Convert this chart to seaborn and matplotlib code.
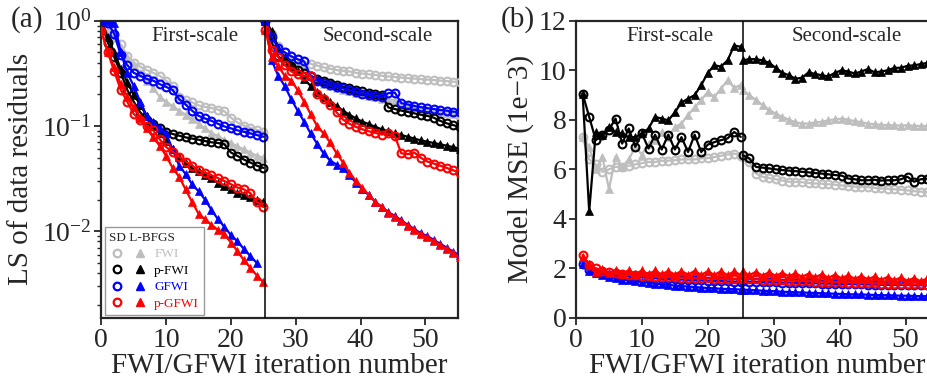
import numpy as np
import pandas as pd
import seaborn as sns
import matplotlib
matplotlib.use("Agg")
import matplotlib.pyplot as plt
from matplotlib.lines import Line2D
from matplotlib.legend_handler import HandlerTuple

nan = np.nan

# ---------------- data: panel (a) LS of data residuals ----------------
iter_a1 = list(range(0, 26))
iter_a2 = list(np.arange(31) + 25.3)

fwi_sd_a1 = [1.0, 0.88, 0.72, 0.60, 0.46, 0.40, 0.365, 0.34, 0.32, 0.30, 0.27, 0.24, 0.19, 0.178, 0.168, 0.157, 0.152, 0.148, 0.143, 0.138, 0.12, 0.108, 0.101, 0.096, 0.092, 0.088]
fwi_lb_a1 = [1.0, 0.85, 0.68, 0.55, 0.45, 0.38, 0.32, 0.27, 0.23, 0.19, 0.17, 0.155, 0.14, 0.128, 0.116, 0.105, 0.095, 0.086, 0.08, 0.074, 0.069, 0.064, 0.06, 0.056, 0.052, 0.05]
pfwi_sd_a1 = [1.0, 0.62, 0.45, 0.32, 0.22, 0.17, 0.135, 0.115, 0.105, 0.095, 0.088, 0.084, 0.081, 0.078, 0.076, 0.074, 0.072, 0.07, 0.069, 0.067, 0.056, 0.052, 0.048, 0.045, 0.042, 0.040]
pfwi_lb_a1 = [1.0, 0.7, 0.5, 0.35, 0.26, 0.2, 0.16, 0.125, 0.1, 0.085, 0.072, 0.06, 0.051, 0.045, 0.04, 0.037, 0.034, 0.032, 0.029, 0.027, 0.025, 0.023, 0.022, 0.021, 0.02, 0.019]
gfwi_sd_a1 = [1.0, 0.95, 0.75, 0.47, 0.38, 0.32, 0.30, 0.28, 0.27, 0.25, 0.235, 0.22, 0.18, 0.16, 0.14, 0.125, 0.118, 0.112, 0.105, 0.099, 0.095, 0.091, 0.088, 0.085, 0.082, 0.079]
gfwi_lb_a1 = [1.0, 1.0, 0.95, 0.5, 0.32, 0.24, 0.17, 0.125, 0.11, 0.095, 0.085, 0.06, 0.042, 0.035, 0.028, 0.024, 0.02, 0.016, 0.013, 0.011, 0.0092, 0.008, 0.0068, 0.0058, 0.005, nan]
pgfwi_sd_a1 = [0.8, 0.5, 0.33, 0.22, 0.17, 0.13, 0.115, 0.1, 0.091, 0.075, 0.063, 0.057, 0.051, 0.046, 0.042, 0.038, 0.036, 0.034, 0.032, 0.03, 0.028, 0.026, 0.025, 0.023, 0.019, 0.017]
pgfwi_lb_a1 = [0.8, 0.5, 0.36, 0.25, 0.19, 0.15, 0.12, 0.095, 0.078, 0.065, 0.052, 0.04, 0.033, 0.025, 0.019, 0.0147, 0.013, 0.0115, 0.0103, 0.0094, 0.0078, 0.0065, 0.0053, 0.0045, 0.0038, 0.0033]

fwi_sd_a2 = [1.0, 0.75, 0.57, 0.5, 0.46, 0.43, 0.41, 0.39, 0.375, 0.36, 0.35, 0.34, 0.335, 0.33, 0.32, 0.315, 0.31, 0.305, 0.3, 0.296, 0.292, 0.288, 0.285, 0.282, 0.279, 0.276, 0.273, 0.27, 0.267, 0.264, 0.26]
fwi_lb_a2 = [1.0, 0.68, 0.53, 0.47, 0.43, 0.4, 0.37, 0.3, 0.27, 0.25, 0.24, 0.23, 0.222, 0.215, 0.207, 0.2, 0.193, 0.187, 0.182, 0.18, 0.175, 0.16, 0.155, 0.15, 0.146, 0.142, 0.139, 0.136, 0.133, 0.13, 0.128]
pfwi_sd_a2 = [1.0, 0.62, 0.46, 0.41, 0.37, 0.34, 0.32, 0.3, 0.28, 0.265, 0.255, 0.245, 0.235, 0.228, 0.22, 0.213, 0.207, 0.202, 0.197, 0.15, 0.145, 0.14, 0.136, 0.132, 0.128, 0.125, 0.12, 0.112, 0.106, 0.102, 0.098]
pfwi_lb_a2 = [1.0, 0.8, 0.55, 0.45, 0.39, 0.33, 0.28, 0.24, 0.21, 0.19, 0.17, 0.155, 0.14, 0.128, 0.118, 0.11, 0.104, 0.098, 0.093, 0.089, 0.085, 0.082, 0.079, 0.076, 0.073, 0.071, 0.069, 0.067, 0.065, 0.063, 0.061]
gfwi_sd_a2 = [1.0, 0.7, 0.55, 0.5, 0.46, 0.43, 0.41, 0.3, 0.27, 0.255, 0.245, 0.235, 0.228, 0.22, 0.21, 0.203, 0.197, 0.192, 0.188, 0.205, 0.208, 0.165, 0.16, 0.155, 0.151, 0.148, 0.145, 0.142, 0.14, 0.137, 0.135]
gfwi_lb_a2 = [1.0, 0.42, 0.3, 0.24, 0.18, 0.14, 0.11, 0.085, 0.068, 0.055, 0.047, 0.043, 0.04, 0.034, 0.029, 0.025, 0.022, 0.019, 0.017, 0.0152, 0.014, 0.0127, 0.0115, 0.0105, 0.0096, 0.009, 0.0083, 0.0076, 0.007, 0.0064, 0.0059]
pgfwi_sd_a2 = [0.82, 0.53, 0.45, 0.38, 0.33, 0.31, 0.3, 0.3, 0.2, 0.18, 0.16, 0.135, 0.115, 0.105, 0.098, 0.093, 0.089, 0.086, 0.083, 0.085, 0.08, 0.055, 0.054, 0.056, 0.05, 0.046, 0.044, 0.042, 0.04, 0.038, 0.036]
pgfwi_lb_a2 = [0.82, 0.45, 0.37, 0.3, 0.27, 0.22, 0.17, 0.13, 0.1, 0.085, 0.07, 0.055, 0.045, 0.036, 0.03, 0.026, 0.022, 0.019, 0.017, 0.015, 0.0138, 0.0125, 0.0113, 0.0103, 0.0094, 0.0088, 0.0081, 0.0074, 0.0068, 0.0062, 0.0057]

# ---------------- data: panel (b) Model MSE (1e-3) ----------------
iter_b1 = list(range(1, 26))
iter_b2 = list(np.arange(30) + 25.3)

fwi_sd_b1 = [7.3, 6.4, 6.2, 5.9, 6.0, 6.1, 6.1, 6.15, 6.2, 6.25, 6.3, 6.3, 6.35, 6.35, 6.37, 6.4, 6.4, 6.4, 6.45, 6.45, 6.5, 6.55, 6.6, 6.64, 6.55]
fwi_lb_b1 = [7.3, 6.9, 6.0, 6.5, 5.2, 6.5, 6.1, 6.4, 6.9, 6.6, 7.04, 7.2, 7.5, 7.3, 7.7, 7.85, 8.2, 8.5, 8.8, 9.13, 8.92, 9.26, 9.6, 9.3, 9.4]
pfwi_sd_b1 = [9.06, 8.12, 7.18, 7.38, 7.6, 8.05, 7.04, 7.65, 6.91, 7.45, 6.84, 7.4, 6.8, 7.4, 6.8, 7.3, 6.7, 7.4, 6.7, 7.0, 7.1, 7.18, 7.25, 7.51, 7.31]
pfwi_lb_b1 = [9.06, 4.3, 7.5, 7.4, 7.7, 7.5, 7.45, 7.3, 7.3, 7.45, 7.65, 8.12, 8.05, 7.98, 8.3, 8.7, 8.85, 9.0, 9.4, 9.9, 10.2, 10.15, 10.4, 11.0, 10.95]
gfwi_sd_b1 = [2.2, 1.95, 1.85, 1.8, 1.75, 1.72, 1.7, 1.68, 1.66, 1.64, 1.62, 1.6, 1.58, 1.57, 1.56, 1.55, 1.54, 1.53, 1.52, 1.51, 1.5, 1.49, 1.48, 1.47, 1.46]
gfwi_lb_b1 = [2.2, 1.9, 1.8, 1.72, 1.66, 1.6, 1.55, 1.52, 1.48, 1.45, 1.42, 1.39, 1.36, 1.34, 1.31, 1.29, 1.27, 1.25, 1.23, 1.21, 1.2, 1.18, 1.17, 1.16, 1.15]
pgfwi_sd_b1 = [2.54, 2.15, 2.0, 1.9, 1.85, 1.8, 1.77, 1.74, 1.72, 1.7, 1.68, 1.67, 1.66, 1.65, 1.64, 1.63, 1.62, 1.61, 1.6, 1.6, 1.59, 1.58, 1.58, 1.57, 1.57]
pgfwi_lb_b1 = [2.45, 2.2, 1.85, 1.98, 1.8, 1.95, 1.78, 1.93, 1.77, 1.92, 1.76, 1.92, 1.76, 1.9, 1.75, 1.9, 1.75, 1.9, 1.74, 1.89, 1.74, 1.89, 1.73, 1.88, 1.73]

fwi_sd_b2 = [6.5, 6.3, 5.83, 5.7, 5.65, 5.6, 5.55, 5.5, 5.5, 5.48, 5.45, 5.43, 5.42, 5.4, 5.38, 5.35, 5.33, 5.3, 5.3, 5.28, 5.25, 5.23, 5.22, 5.2, 5.18, 5.15, 5.12, 5.1, 5.08, 5.06]
fwi_lb_b2 = [9.19, 9.0, 8.8, 8.6, 8.4, 8.25, 8.12, 8.0, 7.9, 7.85, 7.85, 7.9, 7.92, 7.98, 8.02, 8.05, 8.0, 7.95, 7.9, 7.85, 7.82, 7.8, 7.78, 7.78, 7.77, 7.78, 7.76, 7.75, 7.75, 7.76]
pfwi_sd_b2 = [6.57, 6.44, 6.1, 6.07, 6.04, 6.0, 5.97, 5.95, 5.93, 5.9, 5.88, 5.85, 5.83, 5.8, 5.77, 5.75, 5.63, 5.6, 5.56, 5.56, 5.58, 5.55, 5.56, 5.56, 5.6, 5.7, 5.5, 5.6, 5.63, 5.62]
pfwi_lb_b2 = [10.4, 10.45, 10.45, 10.4, 10.3, 10.1, 9.9, 9.8, 9.66, 9.7, 9.92, 9.85, 9.8, 9.75, 9.9, 10.0, 9.95, 9.87, 9.95, 10.05, 9.92, 9.95, 10.0, 10.1, 10.1, 10.18, 10.2, 10.25, 10.3, 10.35]
gfwi_sd_b2 = [1.48, 1.47, 1.46, 1.45, 1.45, 1.44, 1.43, 1.43, 1.42, 1.41, 1.41, 1.4, 1.39, 1.39, 1.38, 1.37, 1.37, 1.36, 1.36, 1.35, 1.35, 1.34, 1.34, 1.33, 1.33, 1.33, 1.32, 1.32, 1.32, 1.31]
gfwi_lb_b2 = [1.15, 1.13, 1.12, 1.1, 1.09, 1.08, 1.06, 1.05, 1.04, 1.03, 1.02, 1.01, 1.0, 0.99, 0.98, 0.97, 0.96, 0.95, 0.95, 0.94, 0.93, 0.92, 0.92, 0.91, 0.9, 0.9, 0.89, 0.88, 0.88, 0.87]
pgfwi_sd_b2 = [1.6, 1.58, 1.56, 1.55, 1.54, 1.53, 1.52, 1.51, 1.5, 1.49, 1.48, 1.47, 1.46, 1.46, 1.45, 1.44, 1.43, 1.42, 1.42, 1.41, 1.4, 1.39, 1.39, 1.38, 1.37, 1.37, 1.36, 1.36, 1.35, 1.35]
pgfwi_lb_b2 = [1.88, 1.72, 1.87, 1.71, 1.85, 1.7, 1.83, 1.68, 1.81, 1.66, 1.79, 1.64, 1.77, 1.62, 1.75, 1.6, 1.73, 1.58, 1.7, 1.56, 1.68, 1.54, 1.66, 1.52, 1.64, 1.5, 1.62, 1.48, 1.6, 1.46]

methods = ["FWI", "p-FWI", "GFWI", "p-GFWI"]
colors = {"FWI": "#BEBEBE", "p-FWI": "#000000", "GFWI": "#0000FF", "p-GFWI": "#FF0000"}

series_a = [
    ("FWI", "SD", iter_a1, fwi_sd_a1), ("FWI", "LB", iter_a1, fwi_lb_a1),
    ("FWI", "SD", iter_a2, fwi_sd_a2), ("FWI", "LB", iter_a2, fwi_lb_a2),
    ("p-FWI", "SD", iter_a1, pfwi_sd_a1), ("p-FWI", "LB", iter_a1, pfwi_lb_a1),
    ("p-FWI", "SD", iter_a2, pfwi_sd_a2), ("p-FWI", "LB", iter_a2, pfwi_lb_a2),
    ("GFWI", "SD", iter_a1, gfwi_sd_a1), ("GFWI", "LB", iter_a1, gfwi_lb_a1),
    ("GFWI", "SD", iter_a2, gfwi_sd_a2), ("GFWI", "LB", iter_a2, gfwi_lb_a2),
    ("p-GFWI", "SD", iter_a1, pgfwi_sd_a1), ("p-GFWI", "LB", iter_a1, pgfwi_lb_a1),
    ("p-GFWI", "SD", iter_a2, pgfwi_sd_a2), ("p-GFWI", "LB", iter_a2, pgfwi_lb_a2),
]
series_b = [
    ("FWI", "SD", iter_b1, fwi_sd_b1), ("FWI", "LB", iter_b1, fwi_lb_b1),
    ("FWI", "SD", iter_b2, fwi_sd_b2), ("FWI", "LB", iter_b2, fwi_lb_b2),
    ("p-FWI", "SD", iter_b1, pfwi_sd_b1), ("p-FWI", "LB", iter_b1, pfwi_lb_b1),
    ("p-FWI", "SD", iter_b2, pfwi_sd_b2), ("p-FWI", "LB", iter_b2, pfwi_lb_b2),
    ("GFWI", "SD", iter_b1, gfwi_sd_b1), ("GFWI", "LB", iter_b1, gfwi_lb_b1),
    ("GFWI", "SD", iter_b2, gfwi_sd_b2), ("GFWI", "LB", iter_b2, gfwi_lb_b2),
    ("p-GFWI", "SD", iter_b1, pgfwi_sd_b1), ("p-GFWI", "LB", iter_b1, pgfwi_lb_b1),
    ("p-GFWI", "SD", iter_b2, pgfwi_sd_b2), ("p-GFWI", "LB", iter_b2, pgfwi_lb_b2),
]

# ---------------- style ----------------
sns.set_style("ticks")
plt.rcParams["font.family"] = ["Liberation Serif", "DejaVu Serif"]
plt.rcParams["mathtext.fontset"] = "stix"
plt.rcParams["axes.linewidth"] = 1.6

fig = plt.figure(figsize=(9.28, 3.77), dpi=100)
ax_a = fig.add_axes([0.1092, 0.1565, 0.3840, 0.7885])
ax_b = fig.add_axes([0.6207, 0.1565, 0.3906, 0.7885])


def draw(ax, series):
    for meth, opt, xs, ys in series:
        c = colors[meth]
        df = pd.DataFrame({"x": xs, "y": ys}).dropna()
        if opt == "SD":
            sns.lineplot(data=df, x="x", y="y", ax=ax, color=c, linewidth=1.6,
                         marker="o", markersize=5.6, markerfacecolor="none",
                         markeredgecolor=c, markeredgewidth=1.5, zorder=3)
        else:
            sns.lineplot(data=df, x="x", y="y", ax=ax, color=c, linewidth=1.6,
                         marker="^", markersize=6.2, markerfacecolor=c,
                         markeredgecolor=c, markeredgewidth=0.5, zorder=3)


draw(ax_a, series_a)
draw(ax_b, series_b)

# panel (a)
ax_a.set_yscale("log")
ax_a.set_ylim(1.5e-3, 1.0)
ax_a.set_xlim(0, 55)
ax_a.set_xticks([0, 10, 20, 30, 40, 50])
ax_a.axvline(25.3, color="black", linewidth=1.1, zorder=4)
ax_a.set_xlabel("FWI/GFWI iteration number", fontsize=21)
ax_a.set_ylabel("LS of data residuals", fontsize=21)
ax_a.yaxis.set_label_coords(-0.19, 0.5)
ax_a.text(14.4, 0.946, "First-scale", transform=ax_a.get_xaxis_transform(),
          ha="center", va="center", fontsize=15)
ax_a.text(42.6, 0.946, "Second-scale", transform=ax_a.get_xaxis_transform(),
          ha="center", va="center", fontsize=15)
for s in ["top", "right", "left", "bottom"]:
    ax_a.spines[s].set_visible(True)

# panel (b)
ax_b.set_ylim(0, 12)
ax_b.set_xlim(0, 55)
ax_b.set_xticks([0, 10, 20, 30, 40, 50])
ax_b.set_yticks([0, 2, 4, 6, 8, 10, 12])
ax_b.axvline(25.3, color="black", linewidth=1.1, zorder=4)
ax_b.set_xlabel("FWI/GFWI iteration number", fontsize=21)
ax_b.set_ylabel("Model MSE (1e\u22123)", fontsize=21)
ax_b.yaxis.set_label_coords(-0.117, 0.5)
ax_b.text(14.3, 0.946, "First-scale", transform=ax_b.get_xaxis_transform(),
          ha="center", va="center", fontsize=15)
ax_b.text(41.1, 0.946, "Second-scale", transform=ax_b.get_xaxis_transform(),
          ha="center", va="center", fontsize=15)
for s in ["top", "right"]:
    ax_b.spines[s].set_visible(True)

for ax in (ax_a, ax_b):
    ax.tick_params(axis="both", which="major", labelsize=20, length=5, width=1.3,
                   direction="out", pad=2)
    ax.tick_params(axis="both", which="minor", length=3, width=1.0)
    ax.xaxis.labelpad = 0

# legend in (a)
handles = []
for m in methods:
    c = colors[m]
    h1 = Line2D([], [], linestyle="none", marker="o", markersize=5.5,
                markerfacecolor="none", markeredgecolor=c, markeredgewidth=1.6)
    h2 = Line2D([], [], linestyle="none", marker="^", markersize=6,
                markerfacecolor=c, markeredgecolor=c)
    handles.append((h1, h2))
leg = ax_a.legend(handles, methods, handler_map={tuple: HandlerTuple(ndivide=None, pad=0.5)},
                  loc="lower left", bbox_to_anchor=(0.0, 0.0), borderaxespad=0.25,
                  title="SD L-BFGS", alignment="left", fontsize=9.5, title_fontsize=9.5,
                  handlelength=2.9, handletextpad=0.5, labelspacing=0.33,
                  frameon=True, fancybox=False, framealpha=1.0, edgecolor="#999999",
                  borderpad=0.35)
leg.get_frame().set_linewidth(1.0)
for t, m in zip(leg.get_texts(), methods):
    t.set_color(colors[m])

fig.text(0.012, 0.947, "(a)", fontsize=21, ha="left", va="center")
fig.text(0.540, 0.947, "(b)", fontsize=21, ha="left", va="center")

fig.savefig("out.png", dpi=100)
